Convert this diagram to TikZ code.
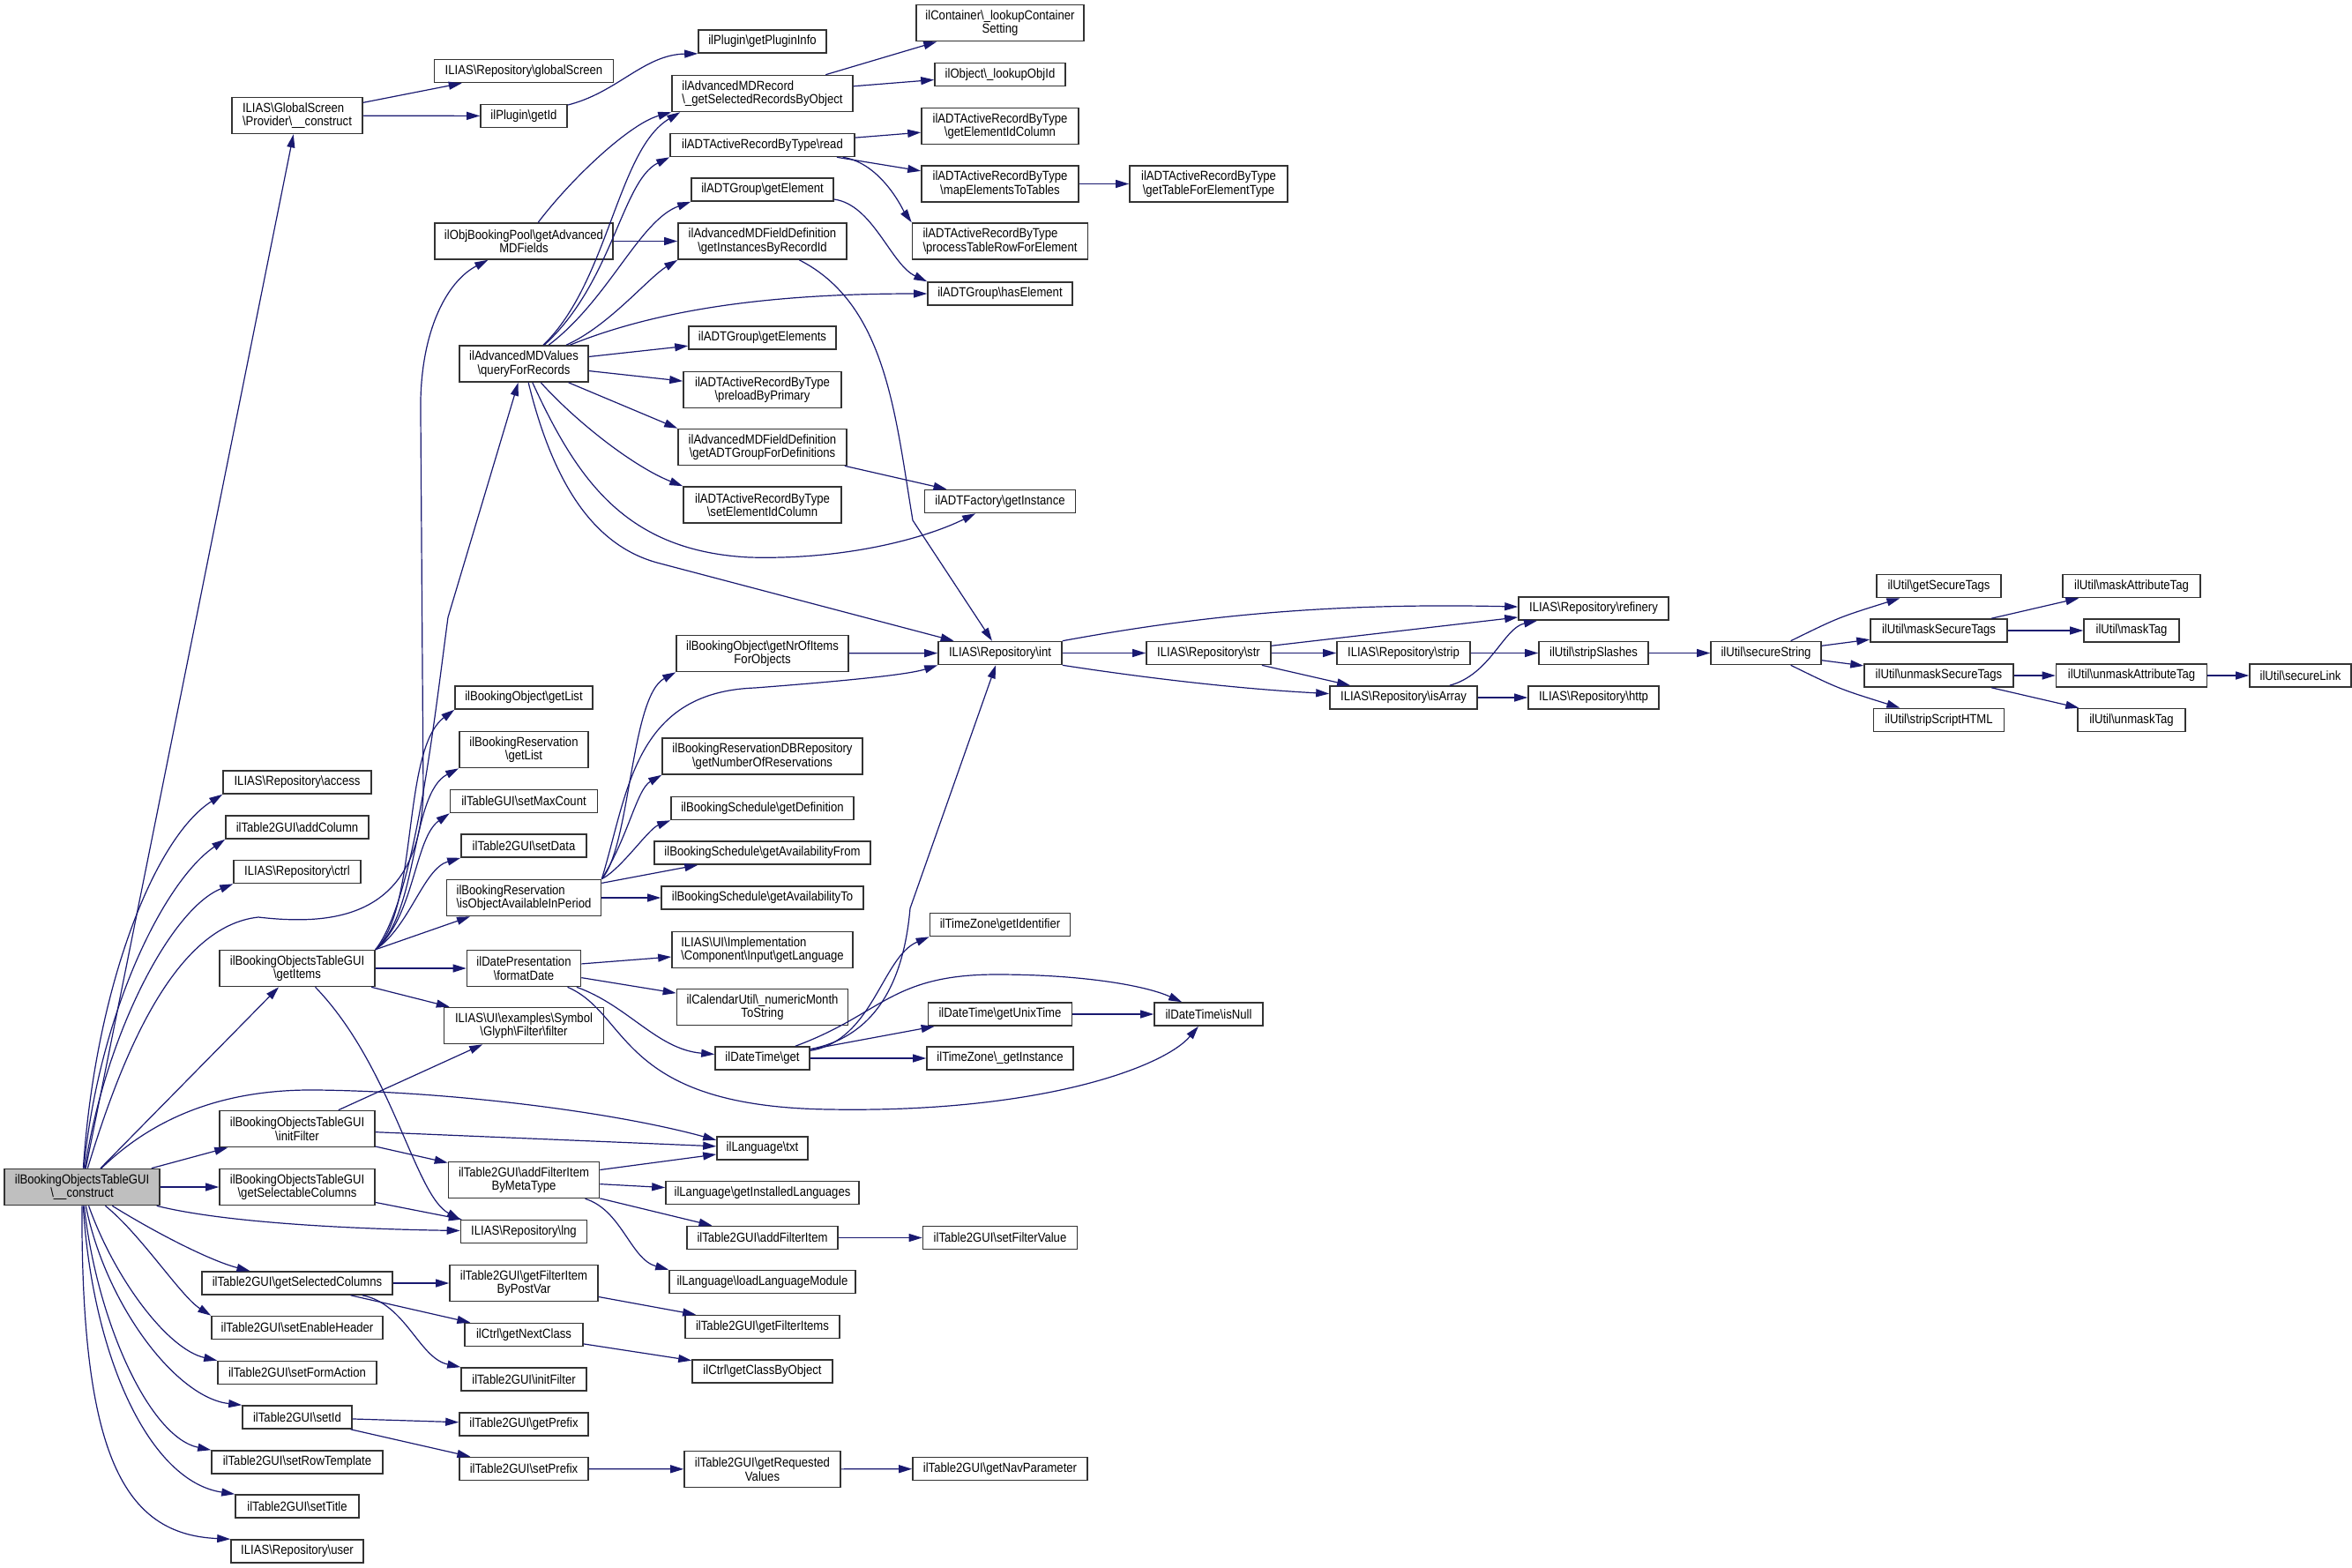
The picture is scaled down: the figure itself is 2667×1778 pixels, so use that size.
\documentclass[tikz,border=0pt]{standalone}
\usepackage{fontspec}
\setmainfont{Liberation Sans}[FakeStretch=0.88]
\usepackage{tikz}
\usetikzlibrary{arrows.meta}
\definecolor{edgeblue}{HTML}{191970}
\definecolor{nodegray}{HTML}{BFBFBF}
\newcommand{\bsl}{\textbackslash}
\tikzset{
  fn/.style={draw=black!80, line width=0.8pt, fill=white, inner sep=0pt,
    minimum height=13pt, align=center, font=\fontsize{7.45}{7.8}\selectfont},
  two/.style={minimum height=20.5pt},
  lft/.style={align=left},
  call/.style={draw=edgeblue, line width=0.6pt, -{Triangle[length=7.5pt,width=4.5pt]}}
}
\begin{document}
\begin{tikzpicture}[x=0.5pt,y=-0.5pt]
\useasboundingbox (0,0) rectangle (2667,1778);
\node[fn, two, fill=nodegray, minimum width=88pt] (construct) at (93,1346) {ilBookingObjectsTableGUI\\\bsl\_\_construct};
\node[fn, two, lft, minimum width=74pt] (gsprov) at (337,131) {ILIAS\bsl GlobalScreen\\\bsl Provider\bsl\_\_construct};
\node[fn, minimum width=84pt] (access) at (337,887) {ILIAS\bsl Repository\bsl access};
\node[fn, minimum width=81pt] (addColumn) at (337,938) {ilTable2GUI\bsl addColumn};
\node[fn, minimum width=72pt] (ctrl) at (337,988.5) {ILIAS\bsl Repository\bsl ctrl};
\node[fn, two, minimum width=88pt] (getItems) at (337,1098) {ilBookingObjectsTableGUI\\\bsl getItems};
\node[fn, two, minimum width=88pt] (initFilter) at (337,1280) {ilBookingObjectsTableGUI\\\bsl initFilter};
\node[fn, two, minimum width=88pt] (selCols) at (337,1346) {ilBookingObjectsTableGUI\\\bsl getSelectableColumns};
\node[fn, minimum width=108pt] (selectedCols) at (337,1455) {ilTable2GUI\bsl getSelectedColumns};
\node[fn, minimum width=97pt] (enableHeader) at (337,1505.5) {ilTable2GUI\bsl setEnableHeader};
\node[fn, minimum width=90pt] (formAction) at (337,1556.5) {ilTable2GUI\bsl setFormAction};
\node[fn, minimum width=62pt] (setId) at (337,1607) {ilTable2GUI\bsl setId};
\node[fn, minimum width=97pt] (rowTemplate) at (337,1658) {ilTable2GUI\bsl setRowTemplate};
\node[fn, minimum width=70pt] (setTitle) at (337,1708) {ilTable2GUI\bsl setTitle};
\node[fn, minimum width=75pt] (repoUser) at (337,1759) {ILIAS\bsl Repository\bsl user};
\node[fn, minimum width=101.5pt] (globalScreen) at (594,80.5) {ILIAS\bsl Repository\bsl globalScreen};
\node[fn, minimum width=49pt] (getId) at (594,131.5) {ilPlugin\bsl getId};
\node[fn, two, minimum width=101pt] (bookingPool) at (594,273.5) {ilObjBookingPool\bsl getAdvanced\\MDFields};
\node[fn, two, minimum width=73pt] (queryRec) at (594,412.5) {ilAdvancedMDValues\\\bsl queryForRecords};
\node[fn, minimum width=78pt] (objList) at (594,791) {ilBookingObject\bsl getList};
\node[fn, two, minimum width=73pt] (resList) at (594,850) {ilBookingReservation\\\bsl getList};
\node[fn, minimum width=83.5pt] (maxCount) at (594,908.5) {ilTableGUI\bsl setMaxCount};
\node[fn, minimum width=71pt] (setData) at (594,959) {ilTable2GUI\bsl setData};
\node[fn, two, lft, minimum width=87.5pt] (objAvail) at (594,1018) {ilBookingReservation\\\bsl isObjectAvailableInPeriod};
\node[fn, two, minimum width=64.5pt] (formatDate) at (594,1098) {ilDatePresentation\\\bsl formatDate};
\node[fn, two, minimum width=90.5pt] (glyphFilter) at (594,1163) {ILIAS\bsl UI\bsl examples\bsl Symbol\\\bsl Glyph\bsl Filter\bsl filter};
\node[fn, two, minimum width=85.5pt] (filterMeta) at (594,1338) {ilTable2GUI\bsl addFilterItem\\ByMetaType};
\node[fn, minimum width=71.5pt] (repoLng) at (594,1396.5) {ILIAS\bsl Repository\bsl lng};
\node[fn, two, minimum width=84pt] (postVar) at (594,1455) {ilTable2GUI\bsl getFilterItem\\ByPostVar};
\node[fn, minimum width=67pt] (nextClass) at (594,1513.5) {ilCtrl\bsl getNextClass};
\node[fn, minimum width=71pt] (tableInitFilter) at (594,1564) {ilTable2GUI\bsl initFilter};
\node[fn, minimum width=73pt] (getPrefix) at (594,1615) {ilTable2GUI\bsl getPrefix};
\node[fn, minimum width=73pt] (setPrefix) at (594,1665.5) {ilTable2GUI\bsl setPrefix};
\node[fn, minimum width=72.5pt] (pluginInfo) at (864.5,47) {ilPlugin\bsl getPluginInfo};
\node[fn, two, lft, minimum width=102.5pt] (selRecords) at (864.5,106) {ilAdvancedMDRecord\\\bsl\_getSelectedRecordsByObject};
\node[fn, minimum width=104.5pt] (adtRead) at (864.5,164.5) {ilADTActiveRecordByType\bsl read};
\node[fn, minimum width=80.5pt] (getElement) at (864.5,215) {ilADTGroup\bsl getElement};
\node[fn, two, minimum width=95.5pt] (instByRecord) at (864.5,273.5) {ilAdvancedMDFieldDefinition\\\bsl getInstancesByRecordId};
\node[fn, minimum width=83.5pt] (getElements) at (864.5,383) {ilADTGroup\bsl getElements};
\node[fn, two, minimum width=89.5pt] (preload) at (864.5,442) {ilADTActiveRecordByType\\\bsl preloadByPrimary};
\node[fn, two, minimum width=95.5pt] (groupDefs) at (864.5,507) {ilAdvancedMDFieldDefinition\\\bsl getADTGroupForDefinitions};
\node[fn, two, minimum width=89.5pt] (setElemCol) at (864.5,572.5) {ilADTActiveRecordByType\\\bsl setElementIdColumn};
\node[fn, two, minimum width=97.5pt] (nrOfItems) at (864.5,741) {ilBookingObject\bsl getNrOfItems\\ForObjects};
\node[fn, two, minimum width=113.5pt] (nrOfRes) at (864.5,857.5) {ilBookingReservationDBRepository\\\bsl getNumberOfReservations};
\node[fn, minimum width=103.5pt] (schedDef) at (864.5,916.5) {ilBookingSchedule\bsl getDefinition};
\node[fn, minimum width=122.5pt] (availFrom) at (864.5,967) {ilBookingSchedule\bsl getAvailabilityFrom};
\node[fn, minimum width=114.5pt] (availTo) at (864.5,1018) {ilBookingSchedule\bsl getAvailabilityTo};
\node[fn, two, lft, minimum width=102.5pt] (inputLang) at (864.5,1077) {ILIAS\bsl UI\bsl Implementation\\\bsl Component\bsl Input\bsl getLanguage};
\node[fn, two, minimum width=97pt] (numMonth) at (864.5,1142) {ilCalendarUtil\bsl\_numericMonth\\ToString};
\node[fn, minimum width=53.5pt] (dtGet) at (864.5,1200) {ilDateTime\bsl get};
\node[fn, minimum width=51.5pt] (langTxt) at (864.5,1302) {ilLanguage\bsl txt};
\node[fn, minimum width=109.5pt] (instLangs) at (864.5,1352.5) {ilLanguage\bsl getInstalledLanguages};
\node[fn, minimum width=85.5pt] (addFilter) at (864.5,1403.5) {ilTable2GUI\bsl addFilterItem};
\node[fn, minimum width=105.5pt] (loadModule) at (864.5,1453.5) {ilLanguage\bsl loadLanguageModule};
\node[fn, minimum width=87.5pt] (filterItems) at (864.5,1504.5) {ilTable2GUI\bsl getFilterItems};
\node[fn, minimum width=79.5pt] (classByObj) at (864.5,1555) {ilCtrl\bsl getClassByObject};
\node[fn, two, minimum width=88.5pt] (reqValues) at (864.5,1666) {ilTable2GUI\bsl getRequested\\Values};
\node[fn, two, minimum width=95pt] (lookupCont) at (1134,26) {ilContainer\bsl\_lookupContainer\\Setting};
\node[fn, minimum width=74pt] (lookupObj) at (1134,84.5) {ilObject\bsl\_lookupObjId};
\node[fn, two, minimum width=89pt] (elemIdCol) at (1134,143) {ilADTActiveRecordByType\\\bsl getElementIdColumn};
\node[fn, two, minimum width=89pt] (mapElems) at (1134,208.5) {ilADTActiveRecordByType\\\bsl mapElementsToTables};
\node[fn, two, lft, minimum width=99.5pt] (procRow) at (1134,273.5) {ilADTActiveRecordByType\\\bsl processTableRowForElement};
\node[fn, minimum width=82pt] (hasElement) at (1134,333) {ilADTGroup\bsl hasElement};
\node[fn, minimum width=85.5pt] (adtFactory) at (1134,568.5) {ilADTFactory\bsl getInstance};
\node[fn, minimum width=70pt] (repoInt) at (1134,740.5) {ILIAS\bsl Repository\bsl int};
\node[fn, minimum width=79.5pt] (tzIdent) at (1134,1048.5) {ilTimeZone\bsl getIdentifier};
\node[fn, minimum width=81.5pt] (unixTime) at (1134,1150) {ilDateTime\bsl getUnixTime};
\node[fn, minimum width=83pt] (tzInstance) at (1134,1200) {ilTimeZone\bsl\_getInstance};
\node[fn, minimum width=87.5pt] (filterValue) at (1134,1403.5) {ilTable2GUI\bsl setFilterValue};
\node[fn, minimum width=99pt] (navParam) at (1134,1665.5) {ilTable2GUI\bsl getNavParameter};
\node[fn, two, minimum width=89.5pt] (tableForType) at (1370.5,208.5) {ilADTActiveRecordByType\\\bsl getTableForElementType};
\node[fn, minimum width=70.5pt] (repoStr) at (1370.5,740.5) {ILIAS\bsl Repository\bsl str};
\node[fn, minimum width=61.5pt] (isNull) at (1370.5,1150) {ilDateTime\bsl isNull};
\node[fn, minimum width=75.5pt] (repoStrip) at (1591.5,740.5) {ILIAS\bsl Repository\bsl strip};
\node[fn, minimum width=83.5pt] (isArray) at (1591.5,791) {ILIAS\bsl Repository\bsl isArray};
\node[fn, minimum width=85pt] (refinery) at (1807,690) {ILIAS\bsl Repository\bsl refinery};
\node[fn, minimum width=62pt] (stripSlashes) at (1807,740.5) {ilUtil\bsl stripSlashes};
\node[fn, minimum width=74pt] (repoHttp) at (1807,791) {ILIAS\bsl Repository\bsl http};
\node[fn, minimum width=62.5pt] (secureString) at (2002.5,740.5) {ilUtil\bsl secureString};
\node[fn, minimum width=70.5pt] (secureTags) at (2198.5,664.5) {ilUtil\bsl getSecureTags};
\node[fn, minimum width=77.5pt] (maskSecure) at (2198.5,715) {ilUtil\bsl maskSecureTags};
\node[fn, minimum width=84.5pt] (unmaskSecure) at (2198.5,766) {ilUtil\bsl unmaskSecureTags};
\node[fn, minimum width=74pt] (scriptHTML) at (2198.5,816.5) {ilUtil\bsl stripScriptHTML};
\node[fn, minimum width=78pt] (maskAttr) at (2417,664.5) {ilUtil\bsl maskAttributeTag};
\node[fn, minimum width=54pt] (maskTag) at (2417,715) {ilUtil\bsl maskTag};
\node[fn, minimum width=85.5pt] (unmaskAttr) at (2417,766) {ilUtil\bsl unmaskAttributeTag};
\node[fn, minimum width=61pt] (unmaskTag) at (2417,816.5) {ilUtil\bsl unmaskTag};
\node[fn, minimum width=57.5pt] (secureLink) at (2608.5,766) {ilUtil\bsl secureLink};

\draw[call] (construct) -- (gsprov);
\draw[call] (construct) .. controls (108,1120) and (175,950) .. (access.south west);
\draw[call] (construct) .. controls (112,1150) and (185,1000) .. (addColumn.south west);
\draw[call] (construct) .. controls (120,1170) and (195,1030) .. (ctrl.south west);
\draw[call] (construct) -- (getItems);
\draw[call] (construct) .. controls (140,1190) and (200,1050) .. (293,1040) .. controls (380,1050) and (475,1040) .. (480,900) -- (477,470) .. controls (475,380) and (505,320) .. (bookingPool);
\draw[call] (construct) .. controls (190,1252) and (280,1235) .. (360,1236) .. controls (520,1238) and (700,1262) .. (langTxt.170);
\draw[call] (construct) -- (initFilter);
\draw[call] (construct) -- (selCols);
\draw[call] (construct) .. controls (260,1388) and (420,1394) .. (repoLng);
\draw[call] (construct) .. controls (180,1400) and (240,1430) .. (selectedCols);
\draw[call] (construct) .. controls (160,1400) and (205,1470) .. (enableHeader.north west);
\draw[call] (construct) .. controls (130,1450) and (190,1530) .. (formAction.north west);
\draw[call] (construct) .. controls (120,1480) and (200,1585) .. (setId.north west);
\draw[call] (construct) .. controls (110,1500) and (170,1630) .. (rowTemplate.north west);
\draw[call] (construct) .. controls (105,1540) and (170,1680) .. (setTitle.north west);
\draw[call] (construct) .. controls (92,1650) and (140,1740) .. (repoUser.north west);

\draw[call] (gsprov) -- (globalScreen);
\draw[call] (gsprov) -- (getId);
\draw[call] (getId) .. controls (700,105) and (730,62) .. (pluginInfo.south west);

\draw[call] (getItems.north east) .. controls (475,1030) and (455,850) .. (objList.south west);
\draw[call] (getItems.north east) .. controls (475,1035) and (465,900) .. (resList.south west);
\draw[call] (getItems.north east) .. controls (470,1040) and (470,950) .. (maxCount.south west);
\draw[call] (getItems.north east) .. controls (465,1050) and (480,985) .. (setData.south west);
\draw[call] (getItems.north east) -- (objAvail);
\draw[call] (getItems.north east) .. controls (470,1020) and (492,820) .. (508,700) -- (queryRec);
\draw[call] (getItems) -- (formatDate);
\draw[call] (getItems) -- (glyphFilter);
\draw[call] (getItems) .. controls (445,1210) and (470,1355) .. (repoLng.north west);

\draw[call] (initFilter) -- (glyphFilter);
\draw[call] (initFilter) -- (langTxt);
\draw[call] (initFilter) -- (filterMeta);
\draw[call] (selCols) -- (repoLng);
\draw[call] (filterMeta) -- (langTxt);
\draw[call] (filterMeta) -- (instLangs);
\draw[call] (filterMeta) -- (addFilter);
\draw[call] (filterMeta) .. controls (705,1372) and (715,1428) .. (loadModule.north west);
\draw[call] (addFilter) -- (filterValue);
\draw[call] (selectedCols) -- (postVar);
\draw[call] (selectedCols) -- (nextClass);
\draw[call] (selectedCols) .. controls (460,1478) and (475,1540) .. (tableInitFilter.north west);
\draw[call] (postVar) -- (filterItems);
\draw[call] (nextClass) -- (classByObj);
\draw[call] (setId) -- (getPrefix);
\draw[call] (setId) -- (setPrefix);
\draw[call] (setPrefix) -- (reqValues);
\draw[call] (reqValues) -- (navParam);

\draw[call] (bookingPool) .. controls (650,200) and (715,140) .. (selRecords.south west);
\draw[call] (bookingPool) -- (instByRecord);
\draw[call] (queryRec) .. controls (690,320) and (700,170) .. ([xshift=5pt]selRecords.south west);
\draw[call] (queryRec) .. controls (695,320) and (705,205) .. (adtRead.south west);
\draw[call] (queryRec) .. controls (690,340) and (725,250) .. (getElement.south west);
\draw[call] (queryRec) .. controls (690,370) and (735,315) .. (instByRecord.south west);
\draw[call] (queryRec) .. controls (760,345) and (900,333) .. (hasElement);
\draw[call] (queryRec) -- (getElements);
\draw[call] (queryRec) -- (preload);
\draw[call] (queryRec) -- (groupDefs.north west);
\draw[call] (queryRec) .. controls (655,480) and (720,530) .. (setElemCol.north west);
\draw[call] (queryRec) .. controls (655,545) and (710,625) .. (850,632) .. controls (960,635) and (1050,610) .. (adtFactory);
\draw[call] (queryRec) .. controls (630,560) and (680,620) .. (745,638) -- (repoInt);
\draw[call] (instByRecord) .. controls (1005,345) and (1015,470) .. (1035,590) -- (repoInt);
\draw[call] (getElement) .. controls (990,232) and (1010,300) .. (hasElement.north west);
\draw[call] (selRecords) -- (lookupCont);
\draw[call] (selRecords) -- (lookupObj);
\draw[call] (adtRead) -- (elemIdCol);
\draw[call] (adtRead) -- (mapElems);
\draw[call] (adtRead) .. controls (1000,185) and (1025,240) .. (procRow.north west);
\draw[call] (mapElems) -- (tableForType);
\draw[call] (groupDefs) -- (adtFactory);

\draw[call] (objAvail.north east) .. controls (715,960) and (715,790) .. (nrOfItems.south west);
\draw[call] (objAvail.north east) .. controls (712,900) and (718,785) .. (856,780) .. controls (960,772) and (1030,765) .. (repoInt.south west);
\draw[call] (objAvail.north east) .. controls (712,950) and (722,895) .. (nrOfRes.south west);
\draw[call] (objAvail.north east) .. controls (705,985) and (735,940) .. (schedDef.south west);
\draw[call] (objAvail) -- (availFrom);
\draw[call] (objAvail) -- (availTo);
\draw[call] (nrOfItems) -- (repoInt);
\draw[call] (repoInt.north east) .. controls (1350,700) and (1500,683) .. (refinery);
\draw[call] (repoInt) -- (repoStr);
\draw[call] (repoInt.south east) .. controls (1320,772) and (1420,782) .. (isArray);
\draw[call] (repoStr) -- (refinery);
\draw[call] (repoStr) -- (repoStrip);
\draw[call] (repoStr) -- (isArray);
\draw[call] (isArray) .. controls (1690,765) and (1705,712) .. (refinery);
\draw[call] (isArray) -- (repoHttp);
\draw[call] (repoStrip) -- (stripSlashes);
\draw[call] (stripSlashes) -- (secureString);
\draw[call] (secureString) .. controls (2085,700) .. (secureTags);
\draw[call] (secureString) -- (maskSecure);
\draw[call] (secureString) -- (unmaskSecure);
\draw[call] (secureString) .. controls (2085,781) .. (scriptHTML);
\draw[call] (maskSecure) -- (maskAttr);
\draw[call] (maskSecure) -- (maskTag);
\draw[call] (unmaskSecure) -- (unmaskAttr);
\draw[call] (unmaskSecure) -- (unmaskTag);
\draw[call] (unmaskAttr) -- (secureLink);

\draw[call] (formatDate) -- (inputLang);
\draw[call] (formatDate) -- (numMonth);
\draw[call] (formatDate) .. controls (712,1140) and (745,1190) .. (dtGet);
\draw[call] (formatDate) .. controls (715,1150) and (700,1255) .. (941,1258) .. controls (1180,1262) and (1320,1210) .. (isNull);
\draw[call] (dtGet) .. controls (990,1180) and (1000,1085) .. (tzIdent.south west);
\draw[call] (dtGet) -- (unixTime);
\draw[call] (dtGet) -- (tzInstance);
\draw[call] (dtGet) .. controls (1000,1150) and (1010,1105) .. (1130,1105) .. controls (1230,1105) and (1300,1118) .. (isNull);
\draw[call] (dtGet) .. controls (995,1175) and (1025,1110) .. (1032,1030) -- (repoInt);
\draw[call] (unixTime) -- (isNull);
\end{tikzpicture}
\end{document}
